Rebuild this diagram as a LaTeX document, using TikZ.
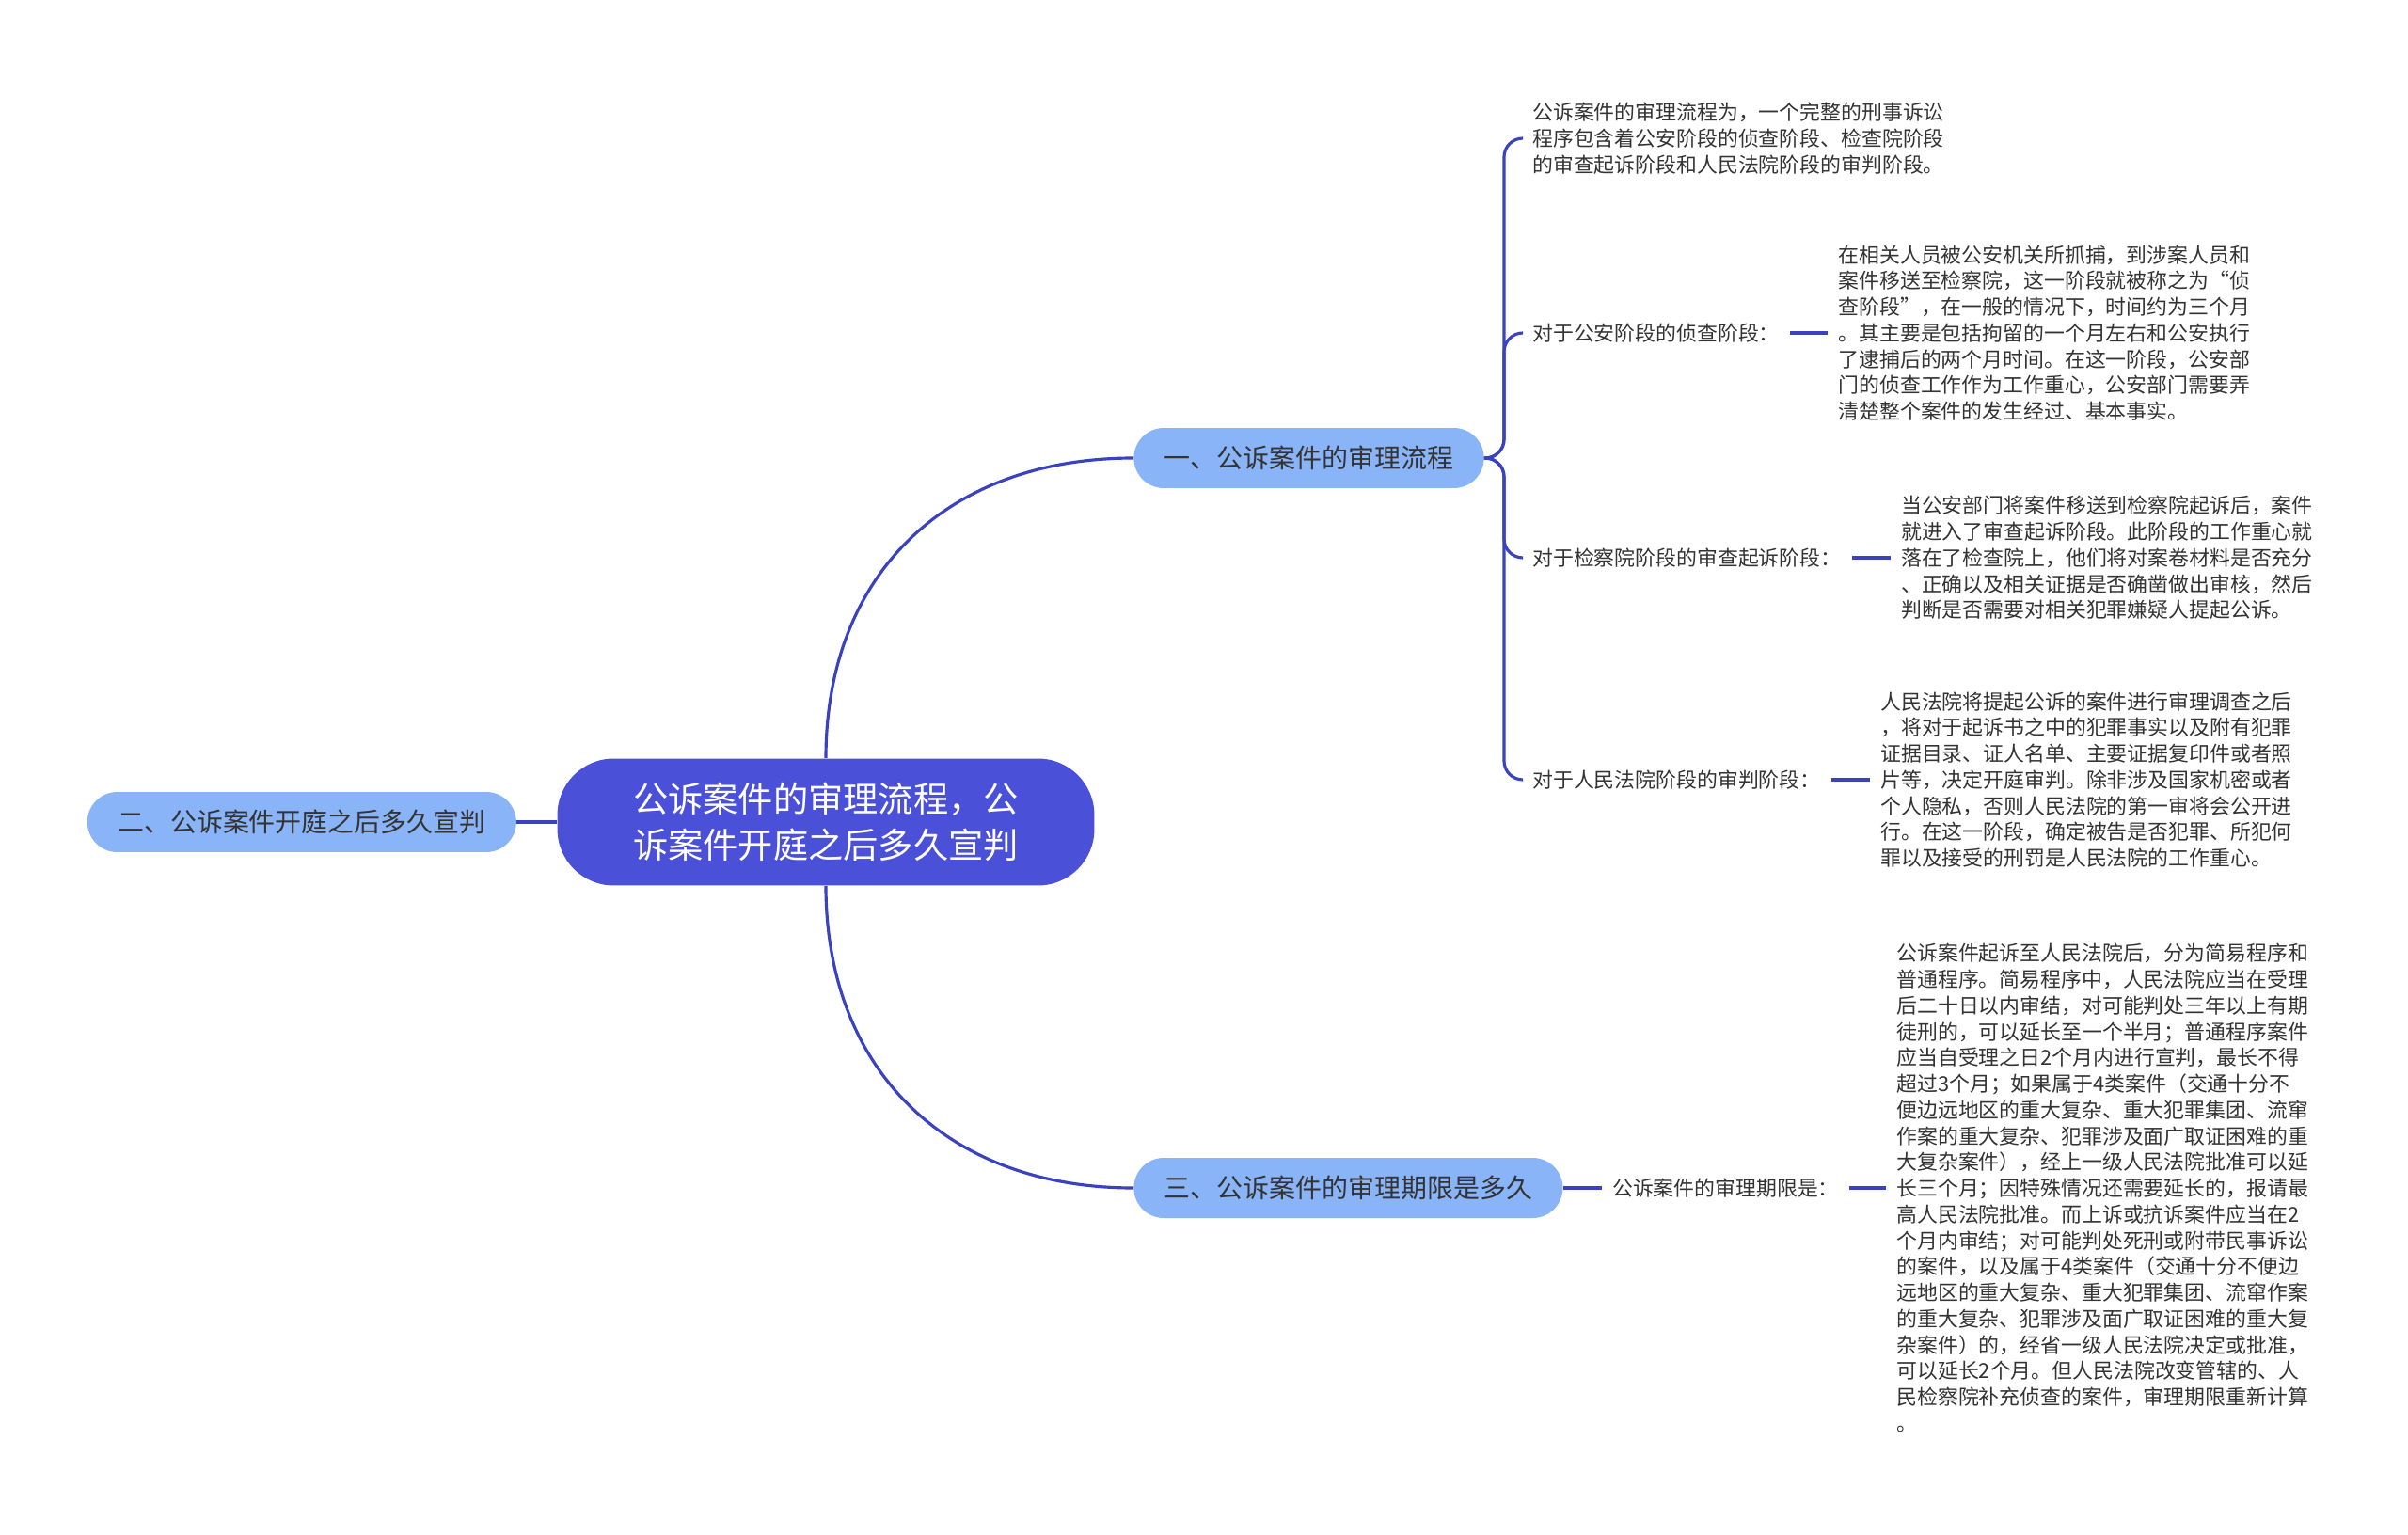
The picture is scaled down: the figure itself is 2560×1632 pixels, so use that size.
\documentclass[tikz,border=0pt]{standalone}
\usepackage{fontspec}
\newfontfamily\cjk{Noto Sans CJK SC}
\usetikzlibrary{positioning}
\definecolor{rootblue}{HTML}{4A50D8}
\definecolor{topicblue}{HTML}{8AB4F8}
\definecolor{lineblue}{HTML}{3A42C0}
\definecolor{textgray}{HTML}{333333}
\tikzset{
  rootnode/.style={rectangle, rounded corners=1.2cm, fill=rootblue,
                   text=white, align=center, minimum width=11.42cm,
                   minimum height=2.7cm,
                   font=\cjk\fontsize{21.2}{27.8}\selectfont},
  topicnode/.style={rectangle, rounded corners=0.64cm, fill=topicblue,
                    text=textgray, minimum height=1.28cm, inner xsep=0.65cm,
                    font=\cjk\fontsize{15.9}{19}\selectfont},
  leafnode/.style={text=textgray, inner xsep=0.22cm, inner ysep=2pt,
                   align=left, font=\cjk\fontsize{12.45}{15.8}\selectfont},
  branch/.style={draw=lineblue, line width=1.8pt},
  bracket/.style={draw=lineblue, line width=1.8pt, rounded corners=0.4cm},
}
\begin{document}
\begin{tikzpicture}[x=0.02cm, y=-0.02cm, node distance=0.8cm]
  \useasboundingbox (0,0) rectangle (2560,1632);
  % central topic and main branches
  \node[rootnode] (root) at (878,874) {公诉案件的审理流程，公\\诉案件开庭之后多久宣判};
  \node[topicnode, left=0.86cm of root] (stagetwo) {二、公诉案件开庭之后多久宣判};
  \node[topicnode, anchor=west] (stageone) at (1205,487) {一、公诉案件的审理流程};
  \node[topicnode, anchor=west] (stagethree) at (1205,1263) {三、公诉案件的审理期限是多久};
  \draw[branch] (root.west) -- (stagetwo.east);
  \draw[branch] (root.north) to[out=90, in=180, looseness=1.1] (stageone.west);
  \draw[branch] (root.south) to[out=-90, in=180, looseness=1.1] (stagethree.west);
  % children of stage one
  \node[leafnode, anchor=west] (overview) at (1618,147) {公诉案件的审理流程为，一个完整的刑事诉讼\\程序包含着公安阶段的侦查阶段、检查院阶段\\的审查起诉阶段和人民法院阶段的审判阶段。};
  \node[leafnode, anchor=west] (police) at (1618,354) {对于公安阶段的侦查阶段：};
  \node[leafnode, anchor=west] (procur) at (1618,593) {对于检察院阶段的审查起诉阶段：};
  \node[leafnode, anchor=west] (court) at (1618,829) {对于人民法院阶段的审判阶段：};
  \node[leafnode, right=of police] (policetxt) {在相关人员被公安机关所抓捕，到涉案人员和\\案件移送至检察院，这一阶段就被称之为“侦\\查阶段”，在一般的情况下，时间约为三个月\\。其主要是包括拘留的一个月左右和公安执行\\了逮捕后的两个月时间。在这一阶段，公安部\\门的侦查工作作为工作重心，公安部门需要弄\\清楚整个案件的发生经过、基本事实。};
  \node[leafnode, right=0.82cm of procur] (procurtxt) {当公安部门将案件移送到检察院起诉后，案件\\就进入了审查起诉阶段。此阶段的工作重心就\\落在了检查院上，他们将对案卷材料是否充分\\、正确以及相关证据是否确凿做出审核，然后\\判断是否需要对相关犯罪嫌疑人提起公诉。};
  \node[leafnode, right=0.82cm of court] (courttxt) {人民法院将提起公诉的案件进行审理调查之后\\，将对于起诉书之中的犯罪事实以及附有犯罪\\证据目录、证人名单、主要证据复印件或者照\\片等，决定开庭审判。除非涉及国家机密或者\\个人隐私，否则人民法院的第一审将会公开进\\行。在这一阶段，确定被告是否犯罪、所犯何\\罪以及接受的刑罚是人民法院的工作重心。};
  \foreach \kid in {overview, police, procur, court}
    \draw[bracket] (stageone.east) -- ++(0.42cm,0) |- (\kid.west);
  \draw[branch] (police) -- (policetxt);
  \draw[branch] (procur) -- (procurtxt);
  \draw[branch] (court) -- (courttxt);
  % children of stage three
  \node[leafnode, right=0.82cm of stagethree] (limit) {公诉案件的审理期限是：};
  \node[leafnode, right=0.78cm of limit] (limittxt) {公诉案件起诉至人民法院后，分为简易程序和\\普通程序。简易程序中，人民法院应当在受理\\后二十日以内审结，对可能判处三年以上有期\\徒刑的，可以延长至一个半月；普通程序案件\\应当自受理之日2个月内进行宣判，最长不得\\超过3个月；如果属于4类案件（交通十分不\\便边远地区的重大复杂、重大犯罪集团、流窜\\作案的重大复杂、犯罪涉及面广取证困难的重\\大复杂案件），经上一级人民法院批准可以延\\长三个月；因特殊情况还需要延长的，报请最\\高人民法院批准。而上诉或抗诉案件应当在2\\个月内审结；对可能判处死刑或附带民事诉讼\\的案件，以及属于4类案件（交通十分不便边\\远地区的重大复杂、重大犯罪集团、流窜作案\\的重大复杂、犯罪涉及面广取证困难的重大复\\杂案件）的，经省一级人民法院决定或批准，\\可以延长2个月。但人民法院改变管辖的、人\\民检察院补充侦查的案件，审理期限重新计算\\。};
  \draw[branch] (stagethree) -- (limit);
  \draw[branch] (limit) -- (limittxt);
\end{tikzpicture}
\end{document}
